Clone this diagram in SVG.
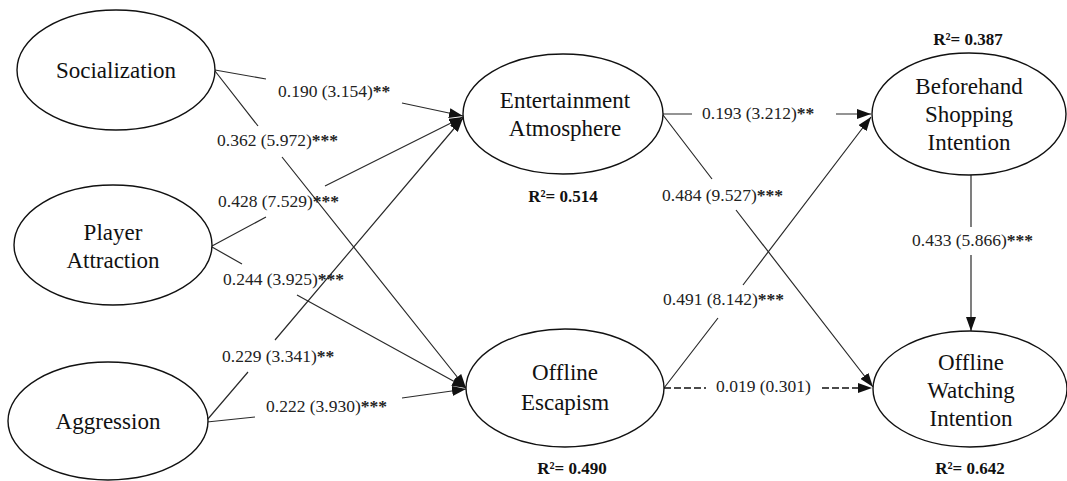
<svg xmlns="http://www.w3.org/2000/svg" width="1067" height="481" viewBox="0 0 1067 481">
  <style>
    .node ellipse { fill: #ffffff; stroke: #111111; stroke-width: 1.4; }
    .node text { font-family: "Liberation Serif", "Times New Roman", serif; font-size: 23px; fill: #111111; text-anchor: middle; }
    .node text.r2 { font-size: 17px; font-weight: bold; }
    .lbl { font-family: "Liberation Serif", "Times New Roman", serif; font-size: 17.5px; fill: #222222; }
    .lbl .sig { font-weight: bold; }
    .edge { fill: none; stroke: #2a2a2a; stroke-width: 1.2; marker-end: url(#arrow); }
    .dashed { stroke: #111111; stroke-width: 1.7; stroke-dasharray: 7 3; }
  </style>
  <defs>
    <marker id="arrow" markerUnits="userSpaceOnUse" markerWidth="14" markerHeight="10" refX="14" refY="5" orient="auto">
      <path d="M0,0 L14,5 L0,10 z" fill="#111111"/>
    </marker>
  </defs>
  <rect width="1067" height="481" fill="#ffffff"/>

  <!-- connectors: each path leaves a gap where its coefficient label sits -->
  <g id="connectors">
    <path class="edge" d="M215,70 L266,79 M402,103 L463,116"/>
    <path class="edge" d="M215,71 L258,126 M282,157 L466,388"/>
    <path class="edge" d="M212,246 L266,217 M325,186 L463,117"/>
    <path class="edge" d="M212,247 L242,264 M297,295 L466,388"/>
    <path class="edge" d="M207,420 L248,372 M275,340 L463,118"/>
    <path class="edge" d="M207,422 L255,417 M402,398 L466,389"/>
    <path class="edge" d="M663,114 L692,114 M836,114 L871,114"/>
    <path class="edge" d="M663,115 L712,179 M736,210 L873,387"/>
    <path class="edge" d="M664,388 L718,318 M743,285 L871,117"/>
    <path class="edge dashed" d="M664,388 L706,388 M822,388 L872,388"/>
    <path class="edge" d="M971,175 L971,227 M971,255 L971,331"/>

    <text class="lbl" x="278" y="97">0.190 (3.154)<tspan class="sig">**</tspan></text>
    <text class="lbl" x="217" y="146">0.362 (5.972)<tspan class="sig">***</tspan></text>
    <text class="lbl" x="218" y="207">0.428 (7.529)<tspan class="sig">***</tspan></text>
    <text class="lbl" x="223" y="285">0.244 (3.925)<tspan class="sig">***</tspan></text>
    <text class="lbl" x="222" y="362">0.229 (3.341)<tspan class="sig">**</tspan></text>
    <text class="lbl" x="266" y="412">0.222 (3.930)<tspan class="sig">***</tspan></text>
    <text class="lbl" x="702" y="119">0.193 (3.212)<tspan class="sig">**</tspan></text>
    <text class="lbl" x="662" y="201">0.484 (9.527)<tspan class="sig">***</tspan></text>
    <text class="lbl" x="663" y="305">0.491 (8.142)<tspan class="sig">***</tspan></text>
    <text class="lbl" x="716" y="392">0.019 (0.301)</text>
    <text class="lbl" x="912" y="246">0.433 (5.866)<tspan class="sig">***</tspan></text>
  </g>

  <g id="socialization" class="node">
    <ellipse cx="116" cy="70" rx="99" ry="60"/>
    <text x="116" y="78">Socialization</text>
  </g>

  <g id="player-attraction" class="node">
    <ellipse cx="113" cy="245" rx="99" ry="60"/>
    <text x="113" y="240">Player</text>
    <text x="113" y="268">Attraction</text>
  </g>

  <g id="aggression" class="node">
    <ellipse cx="108" cy="421" rx="100" ry="59"/>
    <text x="108" y="429">Aggression</text>
  </g>

  <g id="entertainment-atmosphere" class="node">
    <ellipse cx="563" cy="114" rx="100" ry="60"/>
    <text x="565" y="108">Entertainment</text>
    <text x="565" y="136">Atmosphere</text>
    <text class="r2" x="563" y="202">R²= 0.514</text>
  </g>

  <g id="offline-escapism" class="node">
    <ellipse cx="565" cy="388" rx="99" ry="59"/>
    <text x="565" y="380">Offline</text>
    <text x="565" y="410">Escapism</text>
    <text class="r2" x="572" y="474">R²= 0.490</text>
  </g>

  <g id="beforehand-shopping-intention" class="node">
    <ellipse cx="969" cy="114" rx="97" ry="61"/>
    <text x="969" y="94">Beforehand</text>
    <text x="969" y="122">Shopping</text>
    <text x="969" y="150">Intention</text>
    <text class="r2" x="968" y="45">R²= 0.387</text>
  </g>

  <g id="offline-watching-intention" class="node">
    <ellipse cx="970" cy="389" rx="97" ry="58"/>
    <text x="971" y="370">Offline</text>
    <text x="971" y="398">Watching</text>
    <text x="971" y="426">Intention</text>
    <text class="r2" x="970" y="474">R²= 0.642</text>
  </g>
</svg>
